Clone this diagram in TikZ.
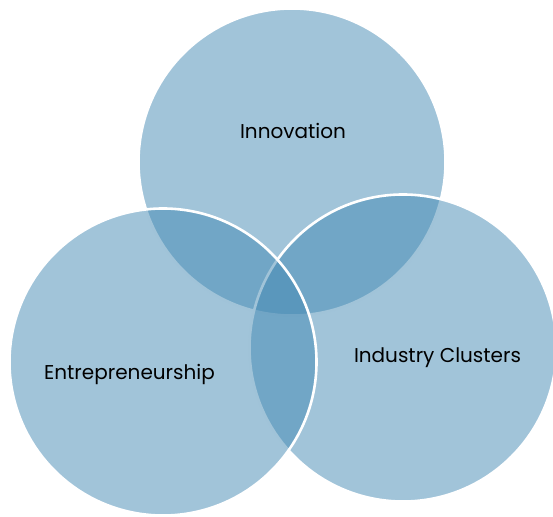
\documentclass[tikz,border=0pt]{standalone}
\usepackage{fontspec}
\setmainfont{Poppins}
\definecolor{vennblue}{RGB}{67,137,179}
\begin{document}
\begin{tikzpicture}[x=1pt,y=1pt,
  venn/.style={circle, minimum size=307pt, inner sep=0pt, fill=vennblue, fill opacity=0.5, draw=white, draw opacity=1, line width=2.6pt},
  lbl/.style={font=\fontsize{20}{24}\selectfont, text=black, inner sep=0pt}]
\useasboundingbox (0,0) rectangle (553,516);
\node[venn] (inno) at (292,354) {};
\node[venn] (clus) at (403,168) {};
\node[venn] (entr) at (163,154) {};
\node[lbl] (tinno) at (293,385) {Innovation};
\node[lbl] (tentr) at (129.5,142) {Entrepreneurship};
\node[lbl] (tclus) at (437.5,158) {Industry Clusters};
\end{tikzpicture}
\end{document}
